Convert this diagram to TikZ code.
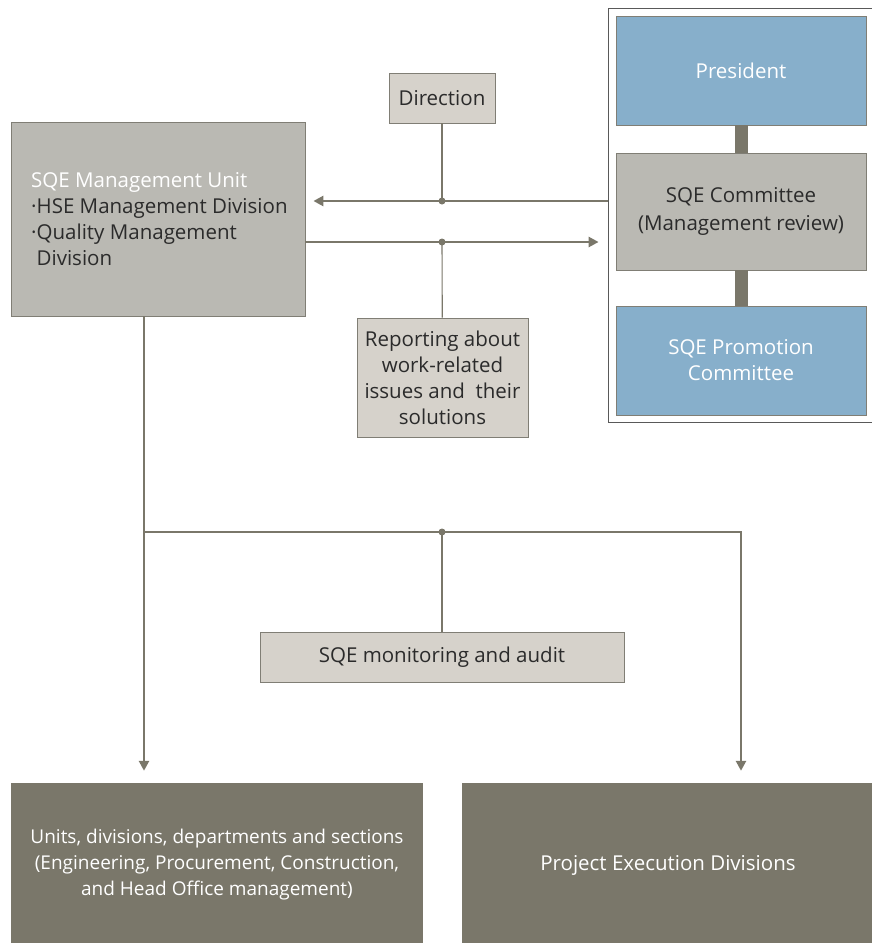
\documentclass[tikz,border=0pt]{standalone}
\usepackage{fontspec}
\setmainfont{Open Sans}
\usetikzlibrary{arrows.meta,positioning,fit}
\definecolor{kek}{HTML}{87AFCB}
\definecolor{szurke}{HTML}{BAB9B3}
\definecolor{vilagos}{HTML}{D6D2CB}
\definecolor{sotet}{HTML}{7A776A}
\definecolor{keret}{HTML}{807E75}
\definecolor{betu}{HTML}{2B2B2B}
\tikzset{
  blu/.style={draw=keret,line width=0.8pt,fill=kek,text=white,align=center},
  gry/.style={draw=keret,line width=0.8pt,fill=szurke,text=betu,align=center},
  note/.style={draw=keret,line width=0.8pt,fill=vilagos,text=betu,align=center},
  dark/.style={fill=sotet,text=white,align=center},
  ln/.style={draw=sotet,line width=2.6pt},
  thin/.style={draw=sotet,line width=1.1pt},
  arr/.style={ln,-{Triangle[length=10pt,width=10pt]}},
  jn/.style={circle,fill=sotet,inner sep=0pt,minimum size=7pt},
}
\begin{document}
\begin{tikzpicture}[x=1pt,y=-1pt,font=\fontsize{20.5}{26}\selectfont]
  \useasboundingbox (0,0) rectangle (872,943);
  % committee column
  \node[blu,minimum width=250pt,minimum height=109pt] (pres) at (741,70.5) {President};
  \node[gry,minimum width=250pt,minimum height=117pt,font=\fontsize{20.5}{28}\selectfont] (cmte) at (741,211.5) {SQE Committee\\(Management review)};
  \node[blu,minimum width=250pt,minimum height=109pt] (promo) at (741,360.5) {SQE Promotion\\Committee};
  \node[draw=black!65,line width=1pt,inner sep=7.5pt,fit=(pres)(promo)] (grp) {};
  \draw[sotet,line width=13pt] (pres.south) -- (cmte.north);
  \draw[sotet,line width=13pt] (cmte.south) -- (promo.north);
  % unit and notes
  \node[gry,minimum width=294pt,minimum height=194pt] (unit) at (158,219) {};
  \node[anchor=west,align=left,text=betu,inner sep=0pt] (unittxt) at (31,219)
    {\textcolor{white}{SQE Management Unit}\\\textperiodcentered HSE Management Division\\\textperiodcentered Quality Management\\\phantom{\textperiodcentered}Division};
  \node[note,minimum width=106pt,minimum height=50pt] (dir) at (442,98) {Direction};
  \node[note,minimum width=171pt,minimum height=119pt] (rep) at (442.5,377.5) {Reporting about\\work-related\\issues and\ \ their\\solutions};
  \node[note,minimum width=364pt,minimum height=50pt] (mon) at (442,657) {SQE monitoring and audit};
  \node[dark,minimum width=412pt,minimum height=164pt,font=\fontsize{19}{26}\selectfont] (left) at (217,865) {Units, divisions, departments and sections\\(Engineering, Procurement, Construction,\\and Head Office management)};
  \node[dark,minimum width=412pt,minimum height=164pt] (right) at (668,865) {Project Execution Divisions};
  % direction and reporting
  \coordinate (d1) at (442,201);
  \coordinate (d2) at (442,242);
  \draw[arr,shorten >=8pt] (grp.west |- d1) -- (unit.east |- d1);
  \draw[arr,shorten >=9pt] (unit.east |- d2) -- (grp.west |- d2);
  \draw[thin] (dir) -- (d1);
  \draw[thin] (rep) -- (d2);
  \node[jn] (j1) at (d1) {};
  \node[jn] (j2) at (d2) {};
  % monitoring
  \coordinate (bl) at (144,532);
  \coordinate (bm) at (442,532);
  \coordinate (br) at (741,532);
  \draw[arr,shorten >=12pt] (unit.south -| bl) -- (left.north -| bl);
  \draw[arr,shorten >=12pt] (bl) -- (br) -- (right.north -| br);
  \draw[thin] (bm) -- (mon);
  \node[jn] (j3) at (bm) {};
\end{tikzpicture}
\end{document}
